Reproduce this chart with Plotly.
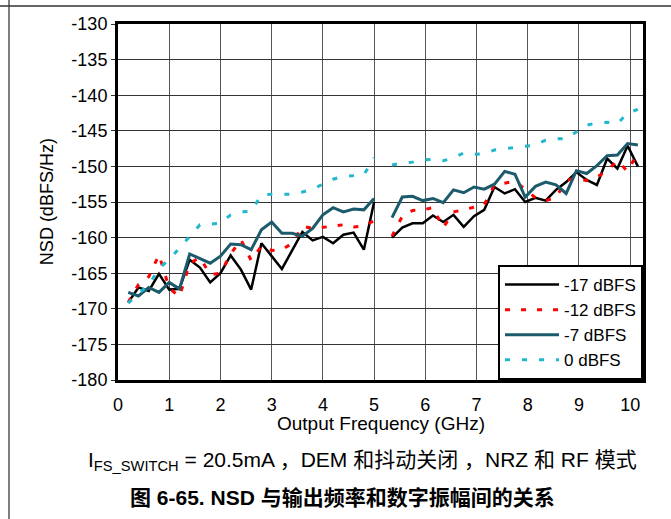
import plotly.graph_objects as go

# Frequencies (GHz) of the two measured segments
freq_low = [0.2, 0.4, 0.6, 0.8, 1.0, 1.2, 1.4, 1.6, 1.8, 2.0, 2.2, 2.4, 2.6,
            2.8, 3.0, 3.2, 3.4, 3.6, 3.8, 4.0, 4.2, 4.4, 4.6, 4.8, 5.0]
freq_high = [5.35, 5.55, 5.75, 5.95, 6.15, 6.35, 6.55, 6.75, 6.95, 7.15, 7.35, 7.55, 7.75,
             7.95, 8.15, 8.35, 8.55, 8.75, 8.95, 9.15, 9.35, 9.55, 9.75, 9.95, 10.15]

# NSD (dBFS/Hz)
nsd_m17_low = [-169.1, -167.0, -167.5, -165.1, -167.3, -167.2, -163.1, -164.2, -166.3, -165.0,
               -162.5, -164.5, -167.3, -160.8, -162.6, -164.4, -161.8, -159.2, -160.4, -159.9,
               -160.8, -159.6, -159.3, -161.7, -155.0]
nsd_m17_high = [-160.0, -158.6, -158.0, -158.0, -156.9, -157.8, -156.8, -158.5, -157.0, -156.1,
                -152.9, -153.8, -153.2, -155.0, -154.4, -154.8, -153.3, -152.2, -150.8, -151.9,
                -152.6, -148.9, -150.3, -147.1, -150.0]

nsd_m12_low = [-169.1, -166.6, -165.5, -162.4, -167.1, -168.3, -163.6, -162.8, -165.2, -165.0,
               -162.3, -160.3, -163.2, -161.2, -161.8, -161.7, -160.8, -158.4, -158.7, -158.6,
               -158.4, -158.2, -158.5, -158.4, -157.6]
nsd_m12_high = [-159.8, -157.0, -156.2, -156.1, -155.8, -158.6, -156.4, -156.1, -155.8, -155.4,
                -152.6, -152.3, -152.1, -153.2, -154.4, -154.8, -154.4, -152.0, -151.6, -152.0,
                -151.5, -150.6, -149.2, -150.7, -148.0]

nsd_m7_low = [-167.7, -168.2, -167.0, -167.7, -166.3, -167.2, -162.3, -163.0, -163.6, -162.6,
              -160.9, -161.0, -161.7, -158.9, -157.8, -159.4, -159.4, -159.8, -158.7, -156.8,
              -155.8, -156.4, -156.0, -156.1, -154.5]
nsd_m7_high = [-157.2, -154.3, -154.2, -154.8, -154.5, -155.1, -153.3, -153.7, -152.9, -153.2,
               -152.5, -150.7, -151.1, -154.3, -152.8, -152.2, -152.6, -153.8, -150.6, -151.0,
               -149.9, -148.5, -148.4, -146.8, -147.0]

nsd_0_low = [-169.2, -167.8, -166.7, -164.3, -163.1, -161.5, -159.8, -158.2, -158.1, -158.0,
             -156.8, -156.4, -156.3, -154.0, -153.9, -153.9, -153.9, -153.6, -153.2, -152.5,
             -151.8, -151.4, -151.3, -151.2, -148.8]
nsd_0_high = [-149.8, -149.5, -149.4, -149.1, -149.0, -149.2, -148.8, -148.1, -148.3, -148.2,
              -147.7, -147.5, -147.3, -147.2, -147.0, -146.3, -146.1, -146.1, -145.2, -144.2,
              -143.9, -143.8, -144.0, -142.5, -142.0]

series_names = ["-17 dBFS", "-12 dBFS", "-7 dBFS", "0 dBFS"]
y_ticks = [-180, -175, -170, -165, -160, -155, -150, -145, -140, -135, -130]
y_tick_labels = ["-180", "-175", "-170", "-165", "-160", "-155", "-150", "-145", "-140", "-135", "-130"]
x_ticks = [0, 1, 2, 3, 4, 5, 6, 7, 8, 9, 10]
x_tick_labels = ["0", "1", "2", "3", "4", "5", "6", "7", "8", "9", "10"]

FONT = "Liberation Sans, Arial, Noto Sans CJK SC, sans-serif"

x_all = freq_low + [None] + freq_high
series = [
    (series_names[0], nsd_m17_low + [None] + nsd_m17_high, dict(color="#000000", width=2.5, dash="solid")),
    (series_names[1], nsd_m12_low + [None] + nsd_m12_high, dict(color="#ff0000", width=3, dash="5px,11px")),
    (series_names[2], nsd_m7_low + [None] + nsd_m7_high, dict(color="#1c5b6c", width=3, dash="solid")),
    (series_names[3], nsd_0_low + [None] + nsd_0_high, dict(color="#1fb8cc", width=3, dash="5px,12px")),
]

fig = go.Figure()
for name, ys, line in series:
    fig.add_trace(go.Scatter(x=x_all, y=ys, mode="lines", name=name, line=line,
                             connectgaps=False))

fig.update_layout(
    width=671, height=519,
    margin=dict(l=118, r=28, t=24, b=139, autoexpand=False),
    paper_bgcolor="white", plot_bgcolor="white",
    font=dict(family=FONT, size=18, color="black"),
    showlegend=True,
    legend=dict(x=1, y=0, xanchor="right", yanchor="bottom",
                bgcolor="white", bordercolor="black", borderwidth=2,
                font=dict(size=17), tracegroupgap=0, itemwidth=54),
    xaxis=dict(range=[0, 10.25], tickvals=x_ticks, ticktext=x_tick_labels, showgrid=True,
               gridcolor="#555555", gridwidth=1, showline=True, linecolor="black", linewidth=3,
               mirror=True, ticks="", ticklabelstandoff=6, zeroline=False, automargin=False,
               tickfont=dict(size=18)),
    yaxis=dict(range=[-180, -130], tickvals=y_ticks, ticktext=y_tick_labels, showgrid=True,
               gridcolor="#333333", gridwidth=1, showline=True, linecolor="black", linewidth=3,
               mirror=True, ticks="outside", ticklen=4, tickcolor="#333333", zeroline=False,
               automargin=False, tickfont=dict(size=18)),
)

annotations = [
    dict(text="Output Frequency (GHz)", x=0.5, y=-0.121, xref="paper", yref="paper",
         xanchor="center", yanchor="middle", showarrow=False, font=dict(size=19)),
    dict(text="NSD (dBFS/Hz)", x=-0.135, y=0.5, xref="paper", yref="paper", textangle=-90,
         xanchor="center", yanchor="middle", showarrow=False, font=dict(size=18)),
    dict(text="I<sub>FS_SWITCH</sub> = 20.5mA ，DEM 和抖动关闭 ，NRZ 和 RF 模式",
         x=(362 - 118) / 525, y=(380 - 461) / 356, xref="paper", yref="paper",
         xanchor="center", yanchor="middle", showarrow=False, font=dict(size=21)),
    dict(text="<b>图 6-65. NSD 与输出频率和数字振幅间的关系</b>",
         x=(342 - 118) / 525, y=(380 - 497) / 356, xref="paper", yref="paper",
         xanchor="center", yanchor="middle", showarrow=False, font=dict(size=21)),
]
fig.update_layout(annotations=annotations)

# page frame lines
fig.add_shape(type="line", xref="paper", yref="paper",
              x0=(9 - 118) / 525, x1=(9 - 118) / 525, y0=(380 - 519) / 356, y1=(380 - 0) / 356,
              line=dict(color="#7f7f7f", width=2))
fig.add_shape(type="line", xref="paper", yref="paper",
              x0=(0 - 118) / 525, x1=(671 - 118) / 525, y0=(380 - 6) / 356, y1=(380 - 6) / 356,
              line=dict(color="#333333", width=1.5))

fig.write_html("out.html", config={"displayModeBar": False},
               post_script="document.body.style.margin='0px';")
